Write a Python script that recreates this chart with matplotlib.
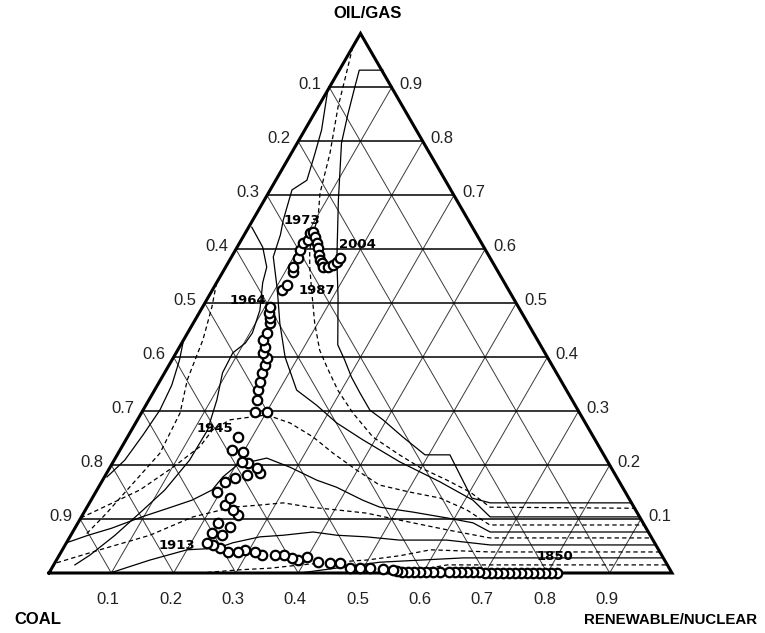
import numpy as np
import matplotlib
matplotlib.use("Agg")
import matplotlib.pyplot as plt

H = np.sqrt(3) / 2

# Historical path of world primary energy shares (fractions of total)
path_oil = [0, 0, 0, 0, 0, 0, 0, 0, 0, 0, 0, 0, 0,
            .002, .002, .002, .002, .002, .002, .002, .002, .002, .002, .002, .002, .002,
            .004, .006, .007, .009, .009, .009, .019, .019, .020, .030, .024, .028, .033,
            .033, .033, .039, .043, .039, .039, .046, .052, .056,
            .074, .070, .093, .085, .108, .117, .126, .139, .150, .169, .176, .182, .204,
            .185, .195, .206, .228, .224, .252,
            .298, .298, .321, .339, .354, .371, .386, .399, .408, .419, .432, .445, .463,
            .473, .482, .493,
            .525, .534, .558, .567, .584, .599, .612, .617, .630, .632,
            .623, .612, .602, .589, .580, .575, .567,
            .567, .571, .576, .584]
path_renew = [.815, .806, .796, .787, .777, .767, .758, .748, .738, .729, .719, .709, .700,
              .689, .680, .670, .660, .651, .641, .627, .615, .604, .595, .585, .575, .566,
              .557, .549, .533, .511, .495, .479, .458, .442, .422, .399, .388, .376, .360,
              .347, .326, .311, .293, .284, .268, .251, .237, .226,
              .225, .243, .225, .248, .249, .237, .220, .221, .195, .198, .211, .227, .217,
              .246, .236, .207, .180, .199, .177,
              .182, .201, .173, .166, .162, .157, .154, .150, .139, .137, .127, .127, .123,
              .118, .112, .108,
              .112, .115, .113, .108, .108, .104, .102, .107, .104, .108,
              .116, .124, .131, .139, .145, .150, .156,
              .164, .170, .174, .175]
label_years = ["1850", "1913", "1945", "1964", "1973", "1987", "2004"]
label_index = [0, 47, 66, 82, 92, 99, 103]
label_shift = [(-2, 16), (-30, -3), (-23, 9), (-22, 7), (-11, 12), (-6, -23), (17, 13)]

# Iso-lines across the simplex (oil/gas share, renewable/nuclear share)
iso1_oil = [.932, .932, .899, .849, .797, .691, .580, .512, .423, .395, .363, .334, .302,
            .284, .252, .219, .219, .139, .130, .130]
iso1_ren = [.070, .032, .041, .055, .071, .119, .172, .208, .252, .277, .304, .332, .364,
            .394, .442, .494, .534, .609, .643, .870]
iso2_oil = [.975, .927, .864, .778, .704, .660, .630, .599, .567, .525, .463, .413, .382,
            .339, .297, .252, .219, .196, .172, .150, .122, .120]
iso2_ren = [.000, .014, .032, .062, .083, .102, .109, .119, .135, .159, .195, .228, .255,
            .294, .339, .394, .453, .497, .553, .601, .647, .880]
iso3_oil = [.895, .821, .778, .728, .710, .678, .654, .627, .586, .525, .463, .400, .339,
            .311, .278, .247, .206, .169, .135, .104, .104]
iso3_ren = [.000, .027, .038, .050, .035, .043, .049, .058, .067, .104, .139, .179, .228,
            .274, .323, .380, .460, .543, .613, .656, .896]
iso4_oil = [.538, .493, .432, .358, .297, .222, .167, .111, .070]
iso4_ren = [.000, .015, .031, .043, .062, .067, .052, .037, .023]
iso5_oil = [.102, .154, .196, .234, .265, .284, .293, .278, .252, .222, .191, .163, .150,
            .139, .117, .089, .089]
iso5_ren = [.000, .069, .101, .125, .130, .149, .203, .248, .298, .345, .398, .449, .504,
            .558, .612, .663, .911]
iso6_oil = [.056, .070, .083, .104, .120, .135, .154, .178, .200, .206, .213, .196, .172,
            .159, .135, .122, .113, .102, .093, .076, .076]
iso6_ren = [.000, .028, .059, .097, .131, .162, .185, .190, .202, .220, .243, .289, .344,
            .382, .436, .470, .527, .588, .634, .670, .924]
iso7_oil = [.019, .043, .070, .104, .122, .126, .130, .122, .117, .111, .098, .080, .065, .065]
iso7_ren = [.003, .060, .127, .179, .234, .276, .311, .358, .403, .454, .514, .599, .675, .935]
iso8_oil = [0, .024, .043, .046, .056, .067, .070, .076, .070, .067, .061, .061, .052, .052]
iso8_ren = [.098, .150, .200, .247, .267, .305, .341, .386, .427, .476, .532, .608, .682, .948]
iso9_oil = [0, .006, .009, .015, .020, .024, .032, .043, .039, .039]
iso9_ren = [.242, .304, .351, .396, .446, .498, .547, .591, .689, .961]
iso10_oil = [0, .020, .028, .028, .028]
iso10_ren = [.403, .521, .651, .694, .972]
iso11_oil = [0, .015, .015, .015]
iso11_ren = [.563, .632, .701, .985]
iso12_oil = [.641, .604, .567, .538, .487, .445, .426, .408, .371, .321, .265, .209, .154,
             .111, .070, .033, .015]
iso12_ren = [.005, .041, .066, .074, .095, .104, .102, .091, .093, .109, .122, .121, .109,
             .090, .071, .049, .034]
iso13_oil = [.432, .395, .348, .302, .256, .209, .178]
iso13_ren = [.000, .012, .023, .027, .023, .017, .004]

iso_lines = [(iso1_oil, iso1_ren, "-"), (iso2_oil, iso2_ren, "--"),
             (iso3_oil, iso3_ren, "-"), (iso4_oil, iso4_ren, "--"),
             (iso5_oil, iso5_ren, "--"), (iso6_oil, iso6_ren, "-"),
             (iso7_oil, iso7_ren, "--"), (iso8_oil, iso8_ren, "-"),
             (iso9_oil, iso9_ren, "--"), (iso10_oil, iso10_ren, "-"),
             (iso11_oil, iso11_ren, "--"), (iso12_oil, iso12_ren, "-"),
             (iso13_oil, iso13_ren, "-")]

ticks = [0.1, 0.2, 0.3, 0.4, 0.5, 0.6, 0.7, 0.8, 0.9]


def tern(oil, ren):
    oil = np.asarray(oil, dtype=float)
    ren = np.asarray(ren, dtype=float)
    return ren + oil / 2, oil * H


fig = plt.figure(figsize=(7.65, 6.33), dpi=100)
ax = fig.add_axes([0, 0, 1, 1])
ax.set_xlim(-49 / 623, 716 / 623)
ax.set_ylim(-60 / 623, 573 / 623)
ax.axis("off")

# grid: lines of constant renewable and constant coal share
for t in ticks:
    x, y = tern([0, 1 - t], [t, t])
    ax.plot(x, y, color="#3a3a3a", lw=0.7, zorder=1)
    x, y = tern([0, 1 - t], [1 - t, 0])
    ax.plot(x, y, color="#3a3a3a", lw=0.7, zorder=1)
# lines of constant oil/gas share
for t in ticks:
    x, y = tern([t, t], [0, 1 - t])
    ax.plot(x, y, color="black", lw=1.1, zorder=2)

for o, r, ls in iso_lines:
    x, y = tern(o, r)
    if ls == "-":
        ax.plot(x, y, color="black", lw=0.9, zorder=3)
    else:
        ax.plot(x, y, color="black", lw=0.9, dashes=(3.5, 2.5), zorder=3)

# triangle frame
x, y = tern([0, 0, 1, 0], [0, 1, 0, 0])
ax.plot(x, y, color="black", lw=2.2, zorder=4, solid_joinstyle="miter")

# historical path
x, y = tern(path_oil, path_renew)
ax.plot(x, y, ls="none", marker="o", ms=6.8, mfc="white", mec="black", mew=1.6, zorder=5)

for yr, i, (dx, dy) in zip(label_years, label_index, label_shift):
    ax.annotate(yr, (x[i], y[i]), xytext=(dx, dy), textcoords="offset pixels",
                ha="center", va="center", fontsize=9.5, fontweight="bold",
                family="DejaVu Sans", zorder=6)

tick_font = dict(fontsize=12, family="Liberation Sans", color="#222222")
for t in ticks:
    # left side
    lx, ly = tern(t, 0)
    ax.annotate(f"{1 - t:.1f}", (lx, ly), xytext=(-8, 3), textcoords="offset pixels",
                ha="right", va="center", **tick_font)
    # right side
    rx, ry = tern(t, 1 - t)
    ax.annotate(f"{t:.1f}", (rx, ry), xytext=(8, 3), textcoords="offset pixels",
                ha="left", va="center", **tick_font)
    # bottom
    bx, by = tern(0, t)
    ax.annotate(f"{t:.1f}", (bx, by), xytext=(-3, -27), textcoords="offset pixels",
                ha="center", va="center", **tick_font)

title_font = dict(fontweight="bold", family="Liberation Sans")
tx, ty = tern(1, 0)
ax.annotate("OIL/GAS", (tx, ty), xytext=(7, 20), textcoords="offset pixels",
            ha="center", va="center", fontsize=12, **title_font)
cx, cy = tern(0, 0)
ax.annotate("COAL", (cx, cy), xytext=(-35, -47), textcoords="offset pixels",
            ha="left", va="center", fontsize=12, **title_font)
rx, ry = tern(0, 1)
ax.annotate("RENEWABLE/NUCLEAR", (rx, ry), xytext=(85, -47), textcoords="offset pixels",
            ha="right", va="center", fontsize=10.8, **title_font)

fig.savefig("out.png", dpi=100)
